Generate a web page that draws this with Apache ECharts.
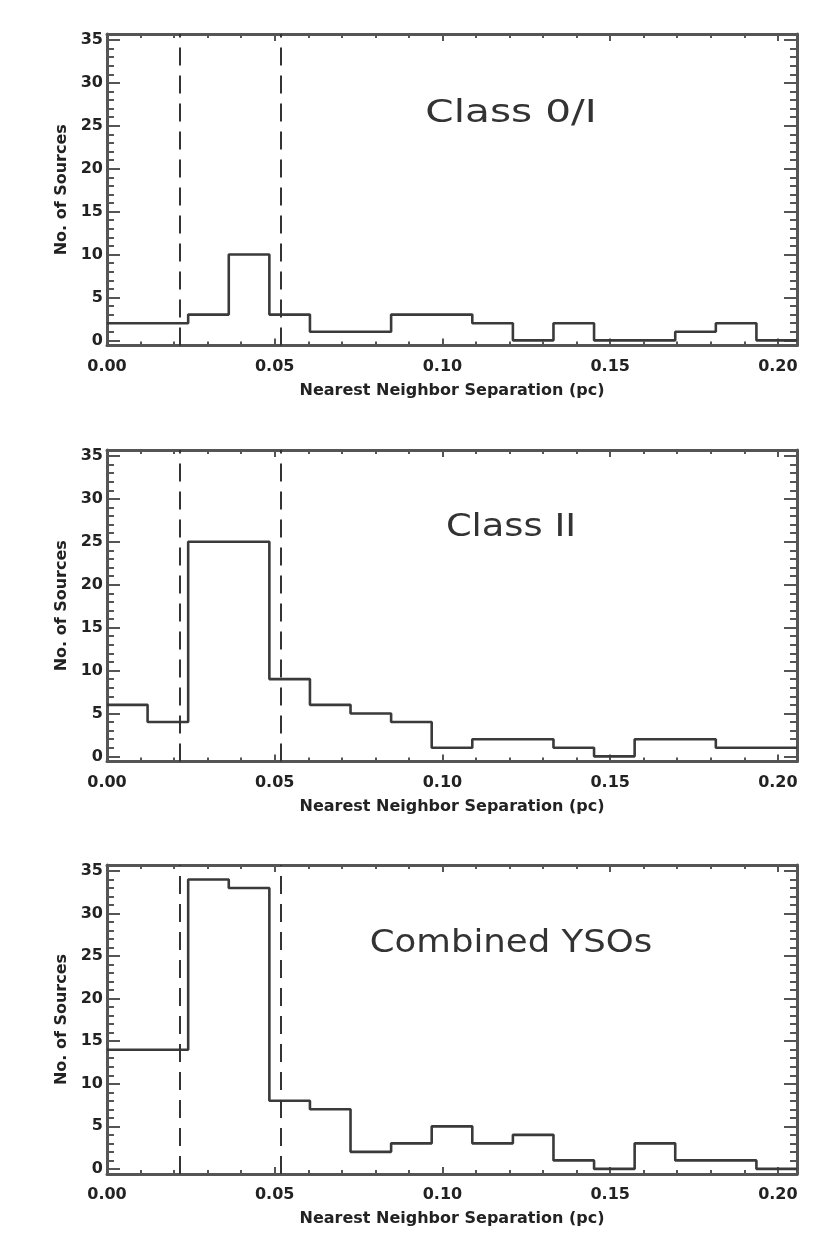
<!DOCTYPE html>
<html>
<head>
<meta charset="utf-8">
<script src="https://cdn.jsdelivr.net/npm/echarts@6/dist/echarts.min.js"></script>
<style>
html,body{margin:0;padding:0;background:#fff;}
#chart{width:830px;height:1246px;}
</style>
</head>
<body>
<div id="chart"></div>
<script>
// ---- data ----
const panelTitles = ['Class 0/I', 'Class II', 'Combined YSOs'];
const binEdges = [0, 0.0121, 0.0242, 0.0363, 0.0484, 0.0605, 0.0726, 0.0847, 0.0968, 0.1089,
                  0.1210, 0.1331, 0.1452, 0.1573, 0.1694, 0.1815, 0.1936, 0.2057];
const countsClass0I  = [2, 2, 3, 10, 3, 1, 1, 3, 3, 2, 0, 2, 0, 0, 1, 2, 0];
const countsClassII  = [6, 4, 25, 25, 9, 6, 5, 4, 1, 2, 2, 1, 0, 2, 2, 1, 1];
const countsCombined = [14, 14, 34, 33, 8, 7, 2, 3, 5, 3, 4, 1, 0, 3, 1, 1, 0];
const dashedLines = [0.0216, 0.0519];
const xTickLabels = [0, 0.05, 0.10, 0.15, 0.20];
const xMinorTicks = [0.01, 0.02, 0.03, 0.04, 0.05, 0.06, 0.07, 0.08, 0.09, 0.10,
                     0.11, 0.12, 0.13, 0.14, 0.15, 0.16, 0.17, 0.18, 0.19, 0.20];
const yTickLabels = [0, 5, 10, 15, 20, 25, 30, 35];
const yMinorTicks = [0,1,2,3,4,5,6,7,8,9,10,11,12,13,14,15,16,17,18,19,20,21,22,23,24,25,26,27,28,29,30,31,32,33,34,35];
const xTitle = 'Nearest Neighbor Separation (pc)';
const yTitle = 'No. of Sources';

// ---- styling / layout ----
const X_MIN = 0, X_MAX = 0.2057, Y_MIN = -0.6, Y_MAX = 35.7;
const frameColor = '#555', inkColor = '#222';
const grids = [
  {left: 107, right: 33, top: 34, height: 311.5},
  {left: 107, right: 33, top: 450, height: 311.5},
  {left: 107, right: 33, top: 865, height: 309}
];
const titlePos = [[511, 114], [511, 528], [511, 944]];
const titleScaleX = [1.27, 1.15, 1.11];
const allCounts = [countsClass0I, countsClassII, countsCombined];

const labelFont = {fontFamily: 'DejaVu Sans', fontWeight: 'bold', fontSize: 16, color: inkColor};
const tickStyle = {color: frameColor, width: 2};
const lineStyleFrame = {color: frameColor, width: 3};

const xAxes = [], yAxes = [], series = [], graphics = [];

grids.forEach((g, gi) => {
  const base = {gridIndex: gi, type: 'value', min: X_MIN, max: X_MAX, splitLine: {show: false}};
  xAxes.push(Object.assign({}, base, {
    position: 'bottom',
    axisLine: {show: true, onZero: false, lineStyle: lineStyleFrame},
    axisTick: {show: true, inside: true, length: 7, customValues: xTickLabels, lineStyle: tickStyle},
    axisLabel: Object.assign({show: true, margin: 13, customValues: xTickLabels,
                              formatter: v => Number(v).toFixed(2)}, labelFont),
    name: xTitle, nameLocation: 'middle', nameGap: 37,
    nameTextStyle: labelFont
  }));
  xAxes.push(Object.assign({}, base, {
    position: 'bottom',
    axisLine: {show: false, onZero: false},
    axisTick: {show: true, inside: true, length: 4, customValues: xMinorTicks, lineStyle: tickStyle},
    axisLabel: {show: false}
  }));
  xAxes.push(Object.assign({}, base, {
    position: 'top',
    axisLine: {show: true, onZero: false, lineStyle: lineStyleFrame},
    axisTick: {show: true, inside: true, length: 7, customValues: xTickLabels, lineStyle: tickStyle},
    axisLabel: {show: false}
  }));
  xAxes.push(Object.assign({}, base, {
    position: 'top',
    axisLine: {show: false, onZero: false},
    axisTick: {show: true, inside: true, length: 4, customValues: xMinorTicks, lineStyle: tickStyle},
    axisLabel: {show: false}
  }));

  const ybase = {gridIndex: gi, type: 'value', min: Y_MIN, max: Y_MAX, splitLine: {show: false}};
  yAxes.push(Object.assign({}, ybase, {
    position: 'left',
    axisLine: {show: true, onZero: false, lineStyle: lineStyleFrame},
    axisTick: {show: true, inside: true, length: 13, customValues: yTickLabels, lineStyle: tickStyle},
    axisLabel: Object.assign({show: true, margin: 4, customValues: yTickLabels}, labelFont),
    name: yTitle, nameLocation: 'middle', nameGap: 36, nameRotate: 90,
    nameTextStyle: labelFont
  }));
  yAxes.push(Object.assign({}, ybase, {
    position: 'left',
    axisLine: {show: false, onZero: false},
    axisTick: {show: true, inside: true, length: 7, customValues: yMinorTicks, lineStyle: tickStyle},
    axisLabel: {show: false}
  }));
  yAxes.push(Object.assign({}, ybase, {
    position: 'right',
    axisLine: {show: true, onZero: false, lineStyle: lineStyleFrame},
    axisTick: {show: true, inside: true, length: 13, customValues: yTickLabels, lineStyle: tickStyle},
    axisLabel: {show: false}
  }));
  yAxes.push(Object.assign({}, ybase, {
    position: 'right',
    axisLine: {show: false, onZero: false},
    axisTick: {show: true, inside: true, length: 7, customValues: yMinorTicks, lineStyle: tickStyle},
    axisLabel: {show: false}
  }));

  const counts = allCounts[gi];
  const stepData = binEdges.map((e, i) => [e, counts[Math.min(i, counts.length - 1)]]);
  series.push({
    type: 'line',
    xAxisIndex: gi * 4,
    yAxisIndex: gi * 4,
    data: stepData,
    step: 'end',
    symbol: 'none',
    silent: true,
    lineStyle: {color: '#3a3a3a', width: 2.6},
    markLine: {
      silent: true,
      symbol: 'none',
      precision: 6,
      label: {show: false},
      lineStyle: {color: '#333', width: 2, type: [18, 10]},
      data: dashedLines.map(v => ({xAxis: v}))
    }
  });

  graphics.push({
    type: 'text',
    x: titlePos[gi][0], y: titlePos[gi][1],
    scaleX: titleScaleX[gi],
    style: {
      text: panelTitles[gi],
      font: 'normal 32px "DejaVu Sans"',
      fill: '#333',
      align: 'center',
      verticalAlign: 'middle'
    }
  });
});

const chart = echarts.init(document.getElementById('chart'));
chart.setOption({
  backgroundColor: '#fff',
  animation: false,
  grid: grids,
  xAxis: xAxes,
  yAxis: yAxes,
  series: series,
  graphic: graphics
});
</script>
</body>
</html>
